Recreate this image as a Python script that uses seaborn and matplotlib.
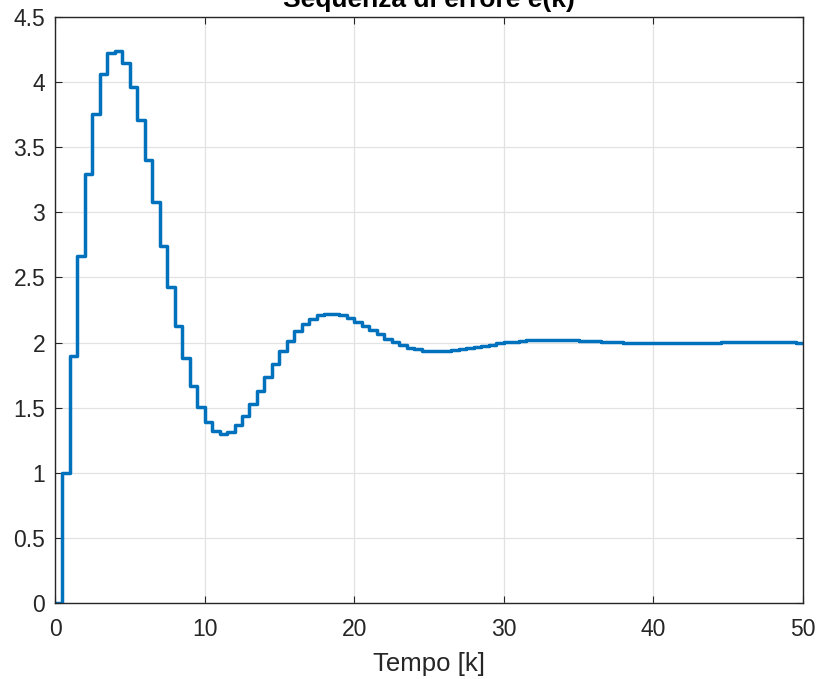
import numpy as np
import pandas as pd
import matplotlib
matplotlib.use("Agg")
import matplotlib.pyplot as plt
import seaborn as sns

# Sample times (Ts = 0.5) and error sequence values
tempo = [i * 0.5 for i in range(101)]
errore = [
    0.0, 1.0, 1.896, 2.667, 3.295, 3.756, 4.066, 4.223, 4.242, 4.150,
    3.965, 3.711, 3.404, 3.076, 2.740, 2.424, 2.130, 1.878, 1.669, 1.505,
    1.387, 1.320, 1.298, 1.314, 1.370, 1.437, 1.527, 1.630, 1.733, 1.833,
    1.933, 2.015, 2.085, 2.144, 2.183, 2.208, 2.221, 2.218, 2.208, 2.185,
    2.159, 2.129, 2.095, 2.062, 2.031, 2.003, 1.979, 1.961, 1.949, 1.938,
    1.936, 1.935, 1.937, 1.941, 1.948, 1.957, 1.966, 1.975, 1.984, 1.993,
    2.001, 2.008, 2.013, 2.017, 2.020, 2.022, 2.022, 2.021, 2.020, 2.018,
    2.015, 2.012, 2.009, 2.006, 2.003, 2.001, 1.999, 1.997, 1.996, 1.995,
    1.994, 1.994, 1.995, 1.995, 1.996, 1.997, 1.998, 1.999, 2.000, 2.001,
    2.001, 2.002, 2.002, 2.002, 2.002, 2.002, 2.001, 2.001, 2.001, 2.000,
    2.000,
]
xticks = [0, 10, 20, 30, 40, 50]
yticks = [0, 0.5, 1, 1.5, 2, 2.5, 3, 3.5, 4, 4.5]
ytick_labels = ["0", "0.5", "1", "1.5", "2", "2.5", "3", "3.5", "4", "4.5"]

sns.set_theme(style="white")
plt.rcParams['font.family'] = ['Liberation Sans', 'DejaVu Sans']

df = pd.DataFrame({"tempo": tempo, "errore": errore})

fig = plt.figure(figsize=(8.17, 6.79), dpi=100)
ax = fig.add_axes([55/817, 1 - 603/679, (803-55)/817, (603-17)/679])

sns.lineplot(data=df, x="tempo", y="errore", ax=ax, drawstyle="steps-post",
             color="#0072BD", linewidth=2.5)

ax.set_xlim(0, 50)
ax.set_ylim(0, 4.5)
ax.set_xticks(xticks)
ax.set_xticklabels([str(v) for v in xticks])
ax.set_yticks(yticks)
ax.set_yticklabels(ytick_labels)
ax.grid(True, color="#e2e2e2", linewidth=0.9)
ax.set_axisbelow(True)
for s in ax.spines.values():
    s.set_color("#262626")
    s.set_linewidth(1.0)
    s.set_visible(True)
ax.tick_params(axis="both", direction="in", length=5, width=0.8, color="#262626",
               labelsize=16.5, labelcolor="#262626", top=True, right=True,
               bottom=True, left=True)
ax.tick_params(axis="x", pad=11)
ax.tick_params(axis="y", pad=7)
ax.set_xlabel("Tempo [k]", fontsize=18.5, color="#262626", labelpad=8)
ax.set_ylabel("")
ax.set_title("Sequenza di errore e(k)", fontsize=19, fontweight="bold", color="black", pad=7)

fig.savefig("out.png", dpi=100)
